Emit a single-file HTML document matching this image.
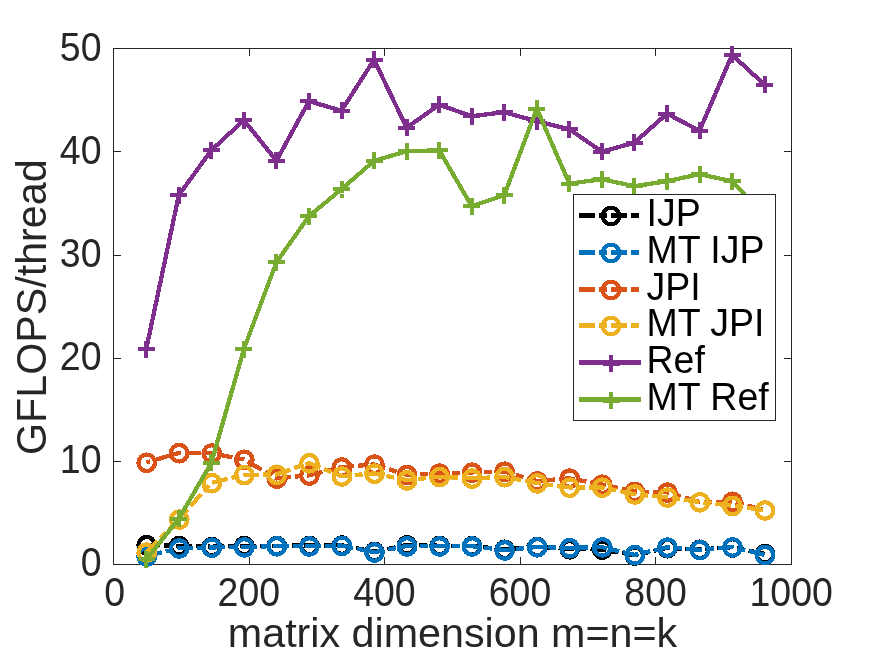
<!DOCTYPE html>
<html><head><meta charset="utf-8"><title>GFLOPS per thread</title>
<style>
html,body{margin:0;padding:0;background:#fff;}
svg{display:block;font-family:"Liberation Sans",sans-serif;}
.tk{font-size:37.5px;fill:#262626;}
.lb{font-size:41.25px;fill:#262626;}
.lg{font-size:37.5px;fill:#000;}
</style></head><body>
<svg width="874" height="655" viewBox="0 0 874 655">
<rect x="0" y="0" width="874" height="655" fill="#fff"/>

<g fill="#262626" shape-rendering="crispEdges"><rect x="113" y="48" width="679" height="1"/><rect x="113" y="564" width="679" height="1"/><rect x="113" y="48" width="1" height="517"/><rect x="791" y="48" width="1" height="517"/><rect x="249" y="557" width="1" height="8"/><rect x="249" y="48" width="1" height="8"/><rect x="384" y="557" width="1" height="8"/><rect x="384" y="48" width="1" height="8"/><rect x="520" y="557" width="1" height="8"/><rect x="520" y="48" width="1" height="8"/><rect x="655" y="557" width="1" height="8"/><rect x="655" y="48" width="1" height="8"/><rect x="113" y="461" width="8" height="1"/><rect x="784" y="461" width="8" height="1"/><rect x="113" y="358" width="8" height="1"/><rect x="784" y="358" width="8" height="1"/><rect x="113" y="255" width="8" height="1"/><rect x="784" y="255" width="8" height="1"/><rect x="113" y="151" width="8" height="1"/><rect x="784" y="151" width="8" height="1"/></g>
<g shape-rendering="crispEdges">
<polyline points="146.26,544.9 178.81,545.8 211.35,546.7 243.90,545.8 276.44,545.7 308.98,545.6 341.53,545.3 374.07,551.7 406.62,545.0 439.16,545.7 471.70,545.9 504.25,549.5 536.79,546.7 569.34,549.0 601.88,549.4 634.42,555.3 666.97,547.9 699.51,549.5 732.06,547.2 764.60,553.8" fill="none" stroke="#000000" stroke-width="4.3" stroke-linejoin="round" stroke-dasharray="16 4 8 4" stroke-dashoffset="2"/>
<circle cx="146.7" cy="545.2" r="8.25" fill="none" stroke="#000000" stroke-width="4.3"/><circle cx="179.2" cy="546.1" r="8.25" fill="none" stroke="#000000" stroke-width="4.3"/><circle cx="211.8" cy="547.0" r="8.25" fill="none" stroke="#000000" stroke-width="4.3"/><circle cx="244.3" cy="546.1" r="8.25" fill="none" stroke="#000000" stroke-width="4.3"/><circle cx="276.8" cy="546.0" r="8.25" fill="none" stroke="#000000" stroke-width="4.3"/><circle cx="309.4" cy="545.9" r="8.25" fill="none" stroke="#000000" stroke-width="4.3"/><circle cx="341.9" cy="545.6" r="8.25" fill="none" stroke="#000000" stroke-width="4.3"/><circle cx="374.5" cy="552.0" r="8.25" fill="none" stroke="#000000" stroke-width="4.3"/><circle cx="407.0" cy="545.3" r="8.25" fill="none" stroke="#000000" stroke-width="4.3"/><circle cx="439.6" cy="546.0" r="8.25" fill="none" stroke="#000000" stroke-width="4.3"/><circle cx="472.1" cy="546.2" r="8.25" fill="none" stroke="#000000" stroke-width="4.3"/><circle cx="504.6" cy="549.8" r="8.25" fill="none" stroke="#000000" stroke-width="4.3"/><circle cx="537.2" cy="547.0" r="8.25" fill="none" stroke="#000000" stroke-width="4.3"/><circle cx="569.7" cy="549.3" r="8.25" fill="none" stroke="#000000" stroke-width="4.3"/><circle cx="602.3" cy="549.7" r="8.25" fill="none" stroke="#000000" stroke-width="4.3"/><circle cx="634.8" cy="555.6" r="8.25" fill="none" stroke="#000000" stroke-width="4.3"/><circle cx="667.4" cy="548.2" r="8.25" fill="none" stroke="#000000" stroke-width="4.3"/><circle cx="699.9" cy="549.8" r="8.25" fill="none" stroke="#000000" stroke-width="4.3"/><circle cx="732.5" cy="547.5" r="8.25" fill="none" stroke="#000000" stroke-width="4.3"/><circle cx="765.0" cy="554.1" r="8.25" fill="none" stroke="#000000" stroke-width="4.3"/>
<polyline points="146.26,556.2 178.81,548.2 211.35,547.4 243.90,547.1 276.44,546.0 308.98,546.2 341.53,545.6 374.07,552.2 406.62,546.1 439.16,546.2 471.70,546.2 504.25,550.1 536.79,547.0 569.34,547.9 601.88,547.1 634.42,554.9 666.97,547.3 699.51,549.8 732.06,547.1 764.60,554.8" fill="none" stroke="#0072BD" stroke-width="4.3" stroke-linejoin="round" stroke-dasharray="16 4 8 4" stroke-dashoffset="0"/>
<circle cx="146.7" cy="556.5" r="8.25" fill="none" stroke="#0072BD" stroke-width="4.3"/><circle cx="179.2" cy="548.5" r="8.25" fill="none" stroke="#0072BD" stroke-width="4.3"/><circle cx="211.8" cy="547.7" r="8.25" fill="none" stroke="#0072BD" stroke-width="4.3"/><circle cx="244.3" cy="547.4" r="8.25" fill="none" stroke="#0072BD" stroke-width="4.3"/><circle cx="276.8" cy="546.3" r="8.25" fill="none" stroke="#0072BD" stroke-width="4.3"/><circle cx="309.4" cy="546.5" r="8.25" fill="none" stroke="#0072BD" stroke-width="4.3"/><circle cx="341.9" cy="545.9" r="8.25" fill="none" stroke="#0072BD" stroke-width="4.3"/><circle cx="374.5" cy="552.5" r="8.25" fill="none" stroke="#0072BD" stroke-width="4.3"/><circle cx="407.0" cy="546.4" r="8.25" fill="none" stroke="#0072BD" stroke-width="4.3"/><circle cx="439.6" cy="546.5" r="8.25" fill="none" stroke="#0072BD" stroke-width="4.3"/><circle cx="472.1" cy="546.5" r="8.25" fill="none" stroke="#0072BD" stroke-width="4.3"/><circle cx="504.6" cy="550.4" r="8.25" fill="none" stroke="#0072BD" stroke-width="4.3"/><circle cx="537.2" cy="547.3" r="8.25" fill="none" stroke="#0072BD" stroke-width="4.3"/><circle cx="569.7" cy="548.2" r="8.25" fill="none" stroke="#0072BD" stroke-width="4.3"/><circle cx="602.3" cy="547.4" r="8.25" fill="none" stroke="#0072BD" stroke-width="4.3"/><circle cx="634.8" cy="555.2" r="8.25" fill="none" stroke="#0072BD" stroke-width="4.3"/><circle cx="667.4" cy="547.6" r="8.25" fill="none" stroke="#0072BD" stroke-width="4.3"/><circle cx="699.9" cy="550.1" r="8.25" fill="none" stroke="#0072BD" stroke-width="4.3"/><circle cx="732.5" cy="547.4" r="8.25" fill="none" stroke="#0072BD" stroke-width="4.3"/><circle cx="765.0" cy="555.1" r="8.25" fill="none" stroke="#0072BD" stroke-width="4.3"/>
<polyline points="146.26,462.5 178.81,452.9 211.35,453.2 243.90,459.5 276.44,478.4 308.98,475.3 341.53,467.2 374.07,464.4 406.62,474.8 439.16,473.3 471.70,472.4 504.25,471.4 536.79,481.1 569.34,478.3 601.88,484.4 634.42,491.6 666.97,492.3 699.51,502.0 732.06,501.5 764.60,510.2" fill="none" stroke="#D95319" stroke-width="4.3" stroke-linejoin="round" stroke-dasharray="16 4 8 4" stroke-dashoffset="24"/>
<circle cx="146.7" cy="462.8" r="8.25" fill="none" stroke="#D95319" stroke-width="4.3"/><circle cx="179.2" cy="453.2" r="8.25" fill="none" stroke="#D95319" stroke-width="4.3"/><circle cx="211.8" cy="453.5" r="8.25" fill="none" stroke="#D95319" stroke-width="4.3"/><circle cx="244.3" cy="459.8" r="8.25" fill="none" stroke="#D95319" stroke-width="4.3"/><circle cx="276.8" cy="478.7" r="8.25" fill="none" stroke="#D95319" stroke-width="4.3"/><circle cx="309.4" cy="475.6" r="8.25" fill="none" stroke="#D95319" stroke-width="4.3"/><circle cx="341.9" cy="467.5" r="8.25" fill="none" stroke="#D95319" stroke-width="4.3"/><circle cx="374.5" cy="464.7" r="8.25" fill="none" stroke="#D95319" stroke-width="4.3"/><circle cx="407.0" cy="475.1" r="8.25" fill="none" stroke="#D95319" stroke-width="4.3"/><circle cx="439.6" cy="473.6" r="8.25" fill="none" stroke="#D95319" stroke-width="4.3"/><circle cx="472.1" cy="472.7" r="8.25" fill="none" stroke="#D95319" stroke-width="4.3"/><circle cx="504.6" cy="471.7" r="8.25" fill="none" stroke="#D95319" stroke-width="4.3"/><circle cx="537.2" cy="481.4" r="8.25" fill="none" stroke="#D95319" stroke-width="4.3"/><circle cx="569.7" cy="478.6" r="8.25" fill="none" stroke="#D95319" stroke-width="4.3"/><circle cx="602.3" cy="484.7" r="8.25" fill="none" stroke="#D95319" stroke-width="4.3"/><circle cx="634.8" cy="491.9" r="8.25" fill="none" stroke="#D95319" stroke-width="4.3"/><circle cx="667.4" cy="492.6" r="8.25" fill="none" stroke="#D95319" stroke-width="4.3"/><circle cx="699.9" cy="502.3" r="8.25" fill="none" stroke="#D95319" stroke-width="4.3"/><circle cx="732.5" cy="501.8" r="8.25" fill="none" stroke="#D95319" stroke-width="4.3"/><circle cx="765.0" cy="510.5" r="8.25" fill="none" stroke="#D95319" stroke-width="4.3"/>
<polyline points="146.26,552.3 178.81,519.3 211.35,482.9 243.90,474.8 276.44,474.5 308.98,463.0 341.53,476.2 374.07,473.4 406.62,480.1 439.16,476.8 471.70,478.3 504.25,476.9 536.79,483.1 569.34,487.4 601.88,487.4 634.42,494.2 666.97,497.3 699.51,502.0 732.06,505.7 764.60,510.2" fill="none" stroke="#EDB120" stroke-width="4.3" stroke-linejoin="round" stroke-dasharray="16 4 8 4" stroke-dashoffset="0"/>
<circle cx="146.7" cy="552.6" r="8.25" fill="none" stroke="#EDB120" stroke-width="4.3"/><circle cx="179.2" cy="519.6" r="8.25" fill="none" stroke="#EDB120" stroke-width="4.3"/><circle cx="211.8" cy="483.2" r="8.25" fill="none" stroke="#EDB120" stroke-width="4.3"/><circle cx="244.3" cy="475.1" r="8.25" fill="none" stroke="#EDB120" stroke-width="4.3"/><circle cx="276.8" cy="474.8" r="8.25" fill="none" stroke="#EDB120" stroke-width="4.3"/><circle cx="309.4" cy="463.3" r="8.25" fill="none" stroke="#EDB120" stroke-width="4.3"/><circle cx="341.9" cy="476.5" r="8.25" fill="none" stroke="#EDB120" stroke-width="4.3"/><circle cx="374.5" cy="473.7" r="8.25" fill="none" stroke="#EDB120" stroke-width="4.3"/><circle cx="407.0" cy="480.4" r="8.25" fill="none" stroke="#EDB120" stroke-width="4.3"/><circle cx="439.6" cy="477.1" r="8.25" fill="none" stroke="#EDB120" stroke-width="4.3"/><circle cx="472.1" cy="478.6" r="8.25" fill="none" stroke="#EDB120" stroke-width="4.3"/><circle cx="504.6" cy="477.2" r="8.25" fill="none" stroke="#EDB120" stroke-width="4.3"/><circle cx="537.2" cy="483.4" r="8.25" fill="none" stroke="#EDB120" stroke-width="4.3"/><circle cx="569.7" cy="487.7" r="8.25" fill="none" stroke="#EDB120" stroke-width="4.3"/><circle cx="602.3" cy="487.7" r="8.25" fill="none" stroke="#EDB120" stroke-width="4.3"/><circle cx="634.8" cy="494.5" r="8.25" fill="none" stroke="#EDB120" stroke-width="4.3"/><circle cx="667.4" cy="497.6" r="8.25" fill="none" stroke="#EDB120" stroke-width="4.3"/><circle cx="699.9" cy="502.3" r="8.25" fill="none" stroke="#EDB120" stroke-width="4.3"/><circle cx="732.5" cy="506.0" r="8.25" fill="none" stroke="#EDB120" stroke-width="4.3"/><circle cx="765.0" cy="510.5" r="8.25" fill="none" stroke="#EDB120" stroke-width="4.3"/>
<polyline points="146.26,349.0 178.81,195.2 211.35,150.2 243.90,120.2 276.44,160.7 308.98,101.2 341.53,110.7 374.07,59.7 406.62,127.7 439.16,104.7 471.70,116.2 504.25,112.2 536.79,121.3 569.34,129.2 601.88,151.7 634.42,142.7 666.97,113.7 699.51,130.7 732.06,54.8 764.60,84.8" fill="none" stroke="#7E2F8E" stroke-width="4.3" stroke-linejoin="round"/>
<path d="M138 347h17v4h-17zM144 341h4v17h-4zM170 193h17v4h-17zM177 187h4v17h-4zM203 148h17v4h-17zM209 142h4v17h-4zM235 118h17v4h-17zM242 112h4v17h-4zM268 159h17v4h-17zM274 152h4v17h-4zM300 99h17v4h-17zM307 93h4v17h-4zM333 109h17v4h-17zM340 102h4v17h-4zM366 58h17v4h-17zM372 51h4v17h-4zM398 126h17v4h-17zM405 119h4v17h-4zM431 103h17v4h-17zM437 96h4v17h-4zM463 114h17v4h-17zM470 108h4v17h-4zM496 110h17v4h-17zM502 104h4v17h-4zM528 119h17v4h-17zM535 113h4v17h-4zM561 127h17v4h-17zM567 121h4v17h-4zM593 150h17v4h-17zM600 143h4v17h-4zM626 141h17v4h-17zM632 134h4v17h-4zM658 112h17v4h-17zM665 105h4v17h-4zM691 129h17v4h-17zM698 122h4v17h-4zM724 53h17v4h-17zM730 46h4v17h-4zM756 83h17v4h-17zM763 76h4v17h-4z" fill="#7E2F8E" stroke="none"/>
<polyline points="146.26,559.4 178.81,518.8 211.35,462.8 243.90,349.0 276.44,262.2 308.98,216.2 341.53,189.2 374.07,160.8 406.62,151.3 439.16,150.3 471.70,206.2 504.25,195.2 536.79,108.7 569.34,183.7 601.88,179.2 634.42,186.2 666.97,181.2 699.51,174.2 732.06,181.2 764.60,216.0" fill="none" stroke="#77AC30" stroke-width="4.3" stroke-linejoin="round"/>
<path d="M138 557h17v4h-17zM144 551h4v17h-4zM170 517h17v4h-17zM177 510h4v17h-4zM203 461h17v4h-17zM209 454h4v17h-4zM235 347h17v4h-17zM242 341h4v17h-4zM268 260h17v4h-17zM274 254h4v17h-4zM300 214h17v4h-17zM307 208h4v17h-4zM333 187h17v4h-17zM340 181h4v17h-4zM366 159h17v4h-17zM372 152h4v17h-4zM398 149h17v4h-17zM405 143h4v17h-4zM431 148h17v4h-17zM437 142h4v17h-4zM463 204h17v4h-17zM470 198h4v17h-4zM496 193h17v4h-17zM502 187h4v17h-4zM528 107h17v4h-17zM535 100h4v17h-4zM561 182h17v4h-17zM567 175h4v17h-4zM593 177h17v4h-17zM600 171h4v17h-4zM626 184h17v4h-17zM632 178h4v17h-4zM658 179h17v4h-17zM665 173h4v17h-4zM691 172h17v4h-17zM698 166h4v17h-4zM724 179h17v4h-17zM730 173h4v17h-4zM756 214h17v4h-17zM763 208h4v17h-4z" fill="#77AC30" stroke="none"/>
<rect x="340" y="193" width="4" height="1" fill="#fff"/>
</g>
<text class="tk" transform="translate(114.7 605.5) scale(1 1.06)" text-anchor="middle">0</text>
<text class="tk" transform="translate(248.8 605.5) scale(1 1.06)" text-anchor="middle">200</text>
<text class="tk" transform="translate(384.4 605.5) scale(1 1.06)" text-anchor="middle">400</text>
<text class="tk" transform="translate(520.0 605.5) scale(1 1.06)" text-anchor="middle">600</text>
<text class="tk" transform="translate(655.6 605.5) scale(1 1.06)" text-anchor="middle">800</text>
<text class="tk" transform="translate(791.2 605.5) scale(1 1.06)" text-anchor="middle">1000</text>
<text class="tk" transform="translate(101.5 575.50) scale(1 1.072)" text-anchor="end">0</text>
<text class="tk" transform="translate(101.5 473.30) scale(1 1.072)" text-anchor="end">10</text>
<text class="tk" transform="translate(101.5 370.10) scale(1 1.072)" text-anchor="end">20</text>
<text class="tk" transform="translate(101.5 266.90) scale(1 1.072)" text-anchor="end">30</text>
<text class="tk" transform="translate(101.5 163.70) scale(1 1.072)" text-anchor="end">40</text>
<text class="tk" transform="translate(101.5 60.50) scale(1 1.072)" text-anchor="end">50</text>
<text class="lb" x="452.5" y="646.7" text-anchor="middle">matrix dimension m=n=k</text>
<text class="lb" transform="translate(46.4 307.2) rotate(-90) scale(1 1.045)" text-anchor="middle">GFLOPS/thread</text>
<g shape-rendering="crispEdges"><rect x="573.5" y="194.5" width="202" height="226" fill="#fff" stroke="#262626" stroke-width="1"/>
<path d="M579 215.5H643" stroke="#000000" stroke-width="5" stroke-dasharray="16 4 8 4" fill="none"/>
<circle cx="611" cy="216.0" r="8.25" fill="none" stroke="#000000" stroke-width="4.3"/>
<path d="M579 252.5H643" stroke="#0072BD" stroke-width="5" stroke-dasharray="16 4 8 4" fill="none"/>
<circle cx="611" cy="253.0" r="8.25" fill="none" stroke="#0072BD" stroke-width="4.3"/>
<path d="M579 289.5H643" stroke="#D95319" stroke-width="5" stroke-dasharray="16 4 8 4" fill="none"/>
<circle cx="611" cy="290.0" r="8.25" fill="none" stroke="#D95319" stroke-width="4.3"/>
<path d="M579 325.5H643" stroke="#EDB120" stroke-width="5" stroke-dasharray="16 4 8 4" fill="none"/>
<circle cx="611" cy="326.0" r="8.25" fill="none" stroke="#EDB120" stroke-width="4.3"/>
<path d="M579 362.5H641" stroke="#7E2F8E" stroke-width="5" fill="none"/>
<path d="M603 362h17v4h-17zM609 355h4v17h-4z" fill="#7E2F8E" stroke="none"/>
<path d="M579 399.5H641" stroke="#77AC30" stroke-width="5" fill="none"/>
<path d="M603 399h17v4h-17zM609 392h4v17h-4z" fill="#77AC30" stroke="none"/>
</g>
<text class="lg" transform="translate(646.5 226.40) scale(1 1.03)">IJP</text>
<text class="lg" transform="translate(646.5 263.05) scale(1 1.03)">MT IJP</text>
<text class="lg" transform="translate(646.5 299.70) scale(1 1.03)">JPI</text>
<text class="lg" transform="translate(646.5 336.35) scale(1 1.03)">MT JPI</text>
<text class="lg" transform="translate(646.5 373.00) scale(1 1.03)">Ref</text>
<text class="lg" transform="translate(646.5 409.65) scale(1 1.03)">MT Ref</text>
</svg></body></html>
